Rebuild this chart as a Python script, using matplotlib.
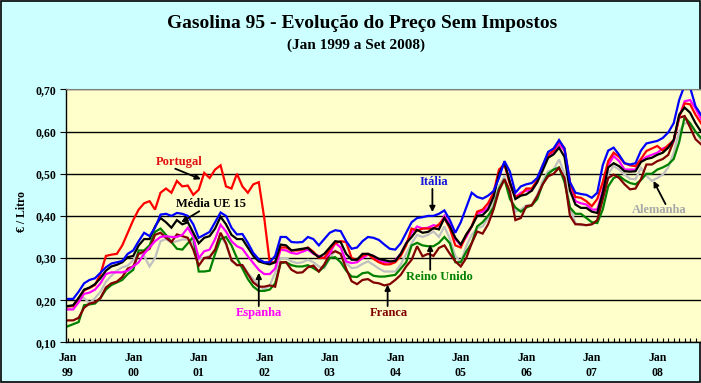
import matplotlib
matplotlib.use("Agg")
import matplotlib.pyplot as plt
import numpy as np
from matplotlib.patches import Rectangle

# monthly prices, Jan 1999 .. Sep 2008 (EUR / litre, without taxes)
portugal = [
    0.185, 0.186, 0.205, 0.223, 0.229, 0.236, 0.262, 0.305, 0.308, 0.310, 0.330, 0.360,
    0.390, 0.415, 0.430, 0.435, 0.415, 0.455, 0.465, 0.455, 0.483, 0.470, 0.472, 0.450,
    0.462, 0.502, 0.490, 0.510, 0.520, 0.470, 0.465, 0.500, 0.470, 0.455, 0.475, 0.480,
    0.395, 0.290, 0.290, 0.325, 0.325, 0.318, 0.318, 0.320, 0.325, 0.315, 0.300, 0.300,
    0.320, 0.335, 0.340, 0.338, 0.300, 0.295, 0.305, 0.310, 0.298, 0.290, 0.285, 0.285,
    0.290, 0.305, 0.330, 0.370, 0.365, 0.370, 0.370, 0.370, 0.380, 0.395, 0.370, 0.330,
    0.325, 0.355, 0.375, 0.410, 0.415, 0.430, 0.455, 0.510, 0.522, 0.475, 0.445, 0.450,
    0.465, 0.465, 0.485, 0.520, 0.545, 0.555, 0.578, 0.560, 0.480, 0.445, 0.443, 0.435,
    0.423, 0.440, 0.480, 0.530, 0.550, 0.540, 0.525, 0.520, 0.518, 0.535, 0.554, 0.560,
    0.566, 0.555, 0.568, 0.580, 0.635, 0.667, 0.665, 0.640, 0.620,
]
media_ue15 = [
    0.186, 0.188, 0.205, 0.225, 0.230, 0.238, 0.252, 0.270, 0.280, 0.284, 0.290, 0.302,
    0.305, 0.330, 0.345, 0.345, 0.375, 0.395, 0.385, 0.372, 0.390, 0.380, 0.385, 0.360,
    0.335, 0.348, 0.352, 0.370, 0.398, 0.380, 0.355, 0.345, 0.345, 0.325, 0.305, 0.292,
    0.288, 0.285, 0.290, 0.332, 0.330, 0.318, 0.320, 0.322, 0.324, 0.312, 0.302, 0.310,
    0.325, 0.340, 0.338, 0.310, 0.296, 0.296, 0.310, 0.310, 0.305, 0.298, 0.295, 0.292,
    0.293, 0.310, 0.335, 0.350, 0.367, 0.360, 0.362, 0.371, 0.368, 0.395, 0.375, 0.348,
    0.332, 0.356, 0.375, 0.400, 0.402, 0.415, 0.445, 0.500, 0.526, 0.480, 0.440, 0.448,
    0.451, 0.460, 0.480, 0.508, 0.538, 0.546, 0.562, 0.540, 0.460, 0.427, 0.419, 0.419,
    0.410, 0.407, 0.455, 0.515, 0.525, 0.518, 0.506, 0.505, 0.506, 0.528, 0.535, 0.538,
    0.545, 0.550, 0.562, 0.580, 0.640, 0.657, 0.645, 0.620, 0.600,
]
italia = [
    0.203, 0.203, 0.220, 0.240, 0.248, 0.252, 0.265, 0.278, 0.287, 0.290, 0.293, 0.310,
    0.318, 0.340, 0.360, 0.352, 0.372, 0.403, 0.405, 0.400, 0.407, 0.405, 0.400, 0.380,
    0.348, 0.355, 0.362, 0.385, 0.408, 0.400, 0.372, 0.356, 0.357, 0.336, 0.312, 0.297,
    0.290, 0.290, 0.305, 0.350, 0.350, 0.338, 0.337, 0.338, 0.350, 0.345, 0.330, 0.345,
    0.360, 0.366, 0.364, 0.340, 0.322, 0.325, 0.340, 0.350, 0.348, 0.343, 0.332, 0.322,
    0.320, 0.335, 0.360, 0.385, 0.395, 0.397, 0.400, 0.400, 0.405, 0.413, 0.390, 0.360,
    0.385, 0.420, 0.455, 0.445, 0.441, 0.448, 0.459, 0.490, 0.530, 0.505, 0.455, 0.470,
    0.475, 0.478, 0.490, 0.520, 0.552, 0.560, 0.580, 0.560, 0.480, 0.455, 0.452, 0.450,
    0.443, 0.455, 0.520, 0.555, 0.562, 0.545, 0.525, 0.522, 0.525, 0.555, 0.572, 0.575,
    0.578, 0.585, 0.598, 0.620, 0.675, 0.710, 0.705, 0.660, 0.640,
]
alemanha = [
    0.179, 0.179, 0.205, 0.205, 0.193, 0.205, 0.220, 0.244, 0.258, 0.270, 0.278, 0.282,
    0.295, 0.312, 0.305, 0.280, 0.300, 0.340, 0.345, 0.336, 0.340, 0.344, 0.344, 0.335,
    0.296, 0.300, 0.305, 0.320, 0.352, 0.332, 0.292, 0.284, 0.284, 0.265, 0.250, 0.235,
    0.225, 0.235, 0.265, 0.300, 0.300, 0.292, 0.288, 0.290, 0.296, 0.290, 0.280, 0.276,
    0.300, 0.318, 0.310, 0.288, 0.276, 0.278, 0.286, 0.292, 0.284, 0.275, 0.268, 0.268,
    0.268, 0.285, 0.310, 0.335, 0.355, 0.350, 0.355, 0.363, 0.350, 0.375, 0.345, 0.305,
    0.290, 0.328, 0.355, 0.371, 0.375, 0.395, 0.430, 0.470, 0.494, 0.450, 0.410, 0.415,
    0.425, 0.427, 0.450, 0.483, 0.506, 0.510, 0.534, 0.500, 0.420, 0.383, 0.378, 0.378,
    0.380, 0.385, 0.440, 0.500, 0.518, 0.510, 0.498, 0.488, 0.487, 0.514, 0.495, 0.483,
    0.490, 0.498, 0.515, 0.550, 0.600, 0.620, 0.620, 0.600, 0.580,
]
reino_unido = [
    0.138, 0.143, 0.148, 0.188, 0.190, 0.192, 0.205, 0.225, 0.236, 0.242, 0.248, 0.262,
    0.272, 0.318, 0.318, 0.330, 0.362, 0.370, 0.355, 0.338, 0.322, 0.320, 0.335, 0.350,
    0.268, 0.268, 0.270, 0.310, 0.345, 0.350, 0.330, 0.300, 0.275, 0.250, 0.232, 0.222,
    0.222, 0.225, 0.240, 0.288, 0.290, 0.283, 0.280, 0.280, 0.283, 0.276, 0.268, 0.280,
    0.300, 0.302, 0.290, 0.270, 0.256, 0.255, 0.264, 0.266, 0.258, 0.256, 0.256, 0.258,
    0.260, 0.275, 0.290, 0.330, 0.336, 0.330, 0.328, 0.328, 0.336, 0.350, 0.335, 0.290,
    0.290, 0.315, 0.335, 0.375, 0.385, 0.400, 0.420, 0.465, 0.487, 0.440, 0.420, 0.410,
    0.420, 0.425, 0.440, 0.475, 0.500, 0.510, 0.515, 0.480, 0.420, 0.405, 0.405, 0.395,
    0.385, 0.383, 0.415, 0.470, 0.490, 0.495, 0.485, 0.478, 0.475, 0.485, 0.500, 0.500,
    0.510, 0.515, 0.522, 0.535, 0.575, 0.635, 0.620, 0.600, 0.585,
]
espanha = [
    0.178, 0.178, 0.195, 0.215, 0.218, 0.225, 0.240, 0.262, 0.266, 0.266, 0.266, 0.270,
    0.280, 0.290, 0.310, 0.325, 0.340, 0.350, 0.352, 0.350, 0.350, 0.355, 0.372, 0.350,
    0.300, 0.316, 0.320, 0.345, 0.379, 0.363, 0.340, 0.328, 0.322, 0.304, 0.288, 0.272,
    0.262, 0.262, 0.275, 0.320, 0.318, 0.312, 0.310, 0.315, 0.320, 0.310, 0.305, 0.300,
    0.310, 0.336, 0.325, 0.292, 0.288, 0.290, 0.300, 0.308, 0.305, 0.295, 0.290, 0.290,
    0.295, 0.310, 0.335, 0.360, 0.375, 0.370, 0.372, 0.378, 0.375, 0.400, 0.380, 0.345,
    0.330, 0.350, 0.375, 0.405, 0.410, 0.420, 0.450, 0.505, 0.525, 0.480, 0.445, 0.455,
    0.460, 0.460, 0.480, 0.515, 0.540, 0.550, 0.570, 0.555, 0.470, 0.435, 0.430, 0.427,
    0.415, 0.415, 0.460, 0.520, 0.542, 0.530, 0.510, 0.510, 0.510, 0.530, 0.540, 0.545,
    0.550, 0.560, 0.565, 0.578, 0.635, 0.672, 0.675, 0.655, 0.630,
]
franca = [
    0.152, 0.152, 0.158, 0.182, 0.192, 0.195, 0.205, 0.230, 0.240, 0.244, 0.255, 0.275,
    0.280, 0.310, 0.315, 0.322, 0.355, 0.360, 0.348, 0.338, 0.356, 0.352, 0.348, 0.320,
    0.282, 0.300, 0.302, 0.320, 0.360, 0.335, 0.295, 0.283, 0.283, 0.262, 0.242, 0.232,
    0.232, 0.235, 0.232, 0.290, 0.290, 0.272, 0.265, 0.266, 0.278, 0.282, 0.268, 0.285,
    0.310, 0.316, 0.310, 0.275, 0.245, 0.238, 0.248, 0.250, 0.242, 0.240, 0.235, 0.238,
    0.248, 0.260, 0.280, 0.296, 0.328, 0.304, 0.310, 0.305, 0.324, 0.330, 0.310, 0.292,
    0.280, 0.300, 0.335, 0.363, 0.358, 0.380, 0.415, 0.460, 0.487, 0.458, 0.390, 0.395,
    0.423, 0.425, 0.447, 0.475, 0.494, 0.500, 0.514, 0.490, 0.400, 0.380, 0.380, 0.378,
    0.380, 0.390, 0.440, 0.490, 0.498, 0.490, 0.475, 0.463, 0.465, 0.487, 0.522, 0.522,
    0.530, 0.535, 0.545, 0.578, 0.633, 0.637, 0.610, 0.582, 0.570,
]

years = ["99", "00", "01", "02", "03", "04", "05", "06", "07", "08"]
yticks = [0.10, 0.20, 0.30, 0.40, 0.50, 0.60, 0.70]

plt.rcParams["font.family"] = ["Liberation Serif", "DejaVu Serif"]
plt.rcParams["font.weight"] = "bold"

fig = plt.figure(figsize=(7.01, 3.83), dpi=100, facecolor="#CCFFFF")
# plot area in pixels: x 66..701, y 89.5..342.3
ax = fig.add_axes([66 / 701, 40.7 / 383, 635 / 701, 252.8 / 383])
ax.set_facecolor("#FFFFCC")

x = np.arange(len(media_ue15))

# drawing order: lower ones first
series = [
    (alemanha, "#C0C0C0"),
    (reino_unido, "#008000"),
    (franca, "#800000"),
    (espanha, "#FF00FF"),
    (portugal, "#FF0000"),
    (media_ue15, "#000000"),
    (italia, "#0000FF"),
]
for vals, col in series:
    ax.plot(x, vals, color=col, linewidth=1.6, solid_joinstyle="miter")

ax.set_xlim(-0.31, 115.15)
ax.set_ylim(0.10, 0.70)
ax.set_yticks(yticks)
ax.set_yticklabels([f"{v:.2f}".replace(".", ",") for v in yticks], fontsize=8.5)
ax.yaxis.grid(True, color="black", linewidth=1.0)
ax.set_axisbelow(True)

ax.set_xticks(np.arange(0, len(x), 12))
ax.set_xticklabels([f"Jan\n{y}" for y in years], fontsize=8.5)
for lbl in ax.get_xticklabels():
    lbl.set_linespacing(1.3)
ax.set_xticks(x, minor=True)
ax.tick_params(axis="x", which="both", direction="in", length=3, width=0.8, pad=7)
ax.tick_params(axis="y", direction="out", length=4, width=0.8, pad=3)

ax.spines["right"].set_visible(False)
ax.spines["top"].set_color("#808080")
ax.spines["left"].set_linewidth(1.0)
ax.spines["bottom"].set_linewidth(1.0)

# country labels with arrows: (text, colour, text pos, arrow tail, arrow head)
labels = [
    ("Portugal", "#E01010", (20.4, 0.528), (19.7, 0.512), (24.4, 0.487)),
    ("Média UE 15", "#000000", (26.3, 0.428), (24.1, 0.411), (20.8, 0.385)),
    ("Itália", "#1515DD", (67.0, 0.480), (66.8, 0.464), (66.8, 0.409)),
    ("Reino Unido", "#008000", (68.0, 0.256), (66.4, 0.272), (66.4, 0.332)),
    ("Franca", "#800000", (58.9, 0.170), (58.6, 0.186), (58.6, 0.237)),
    ("Espanha", "#FF00FF", (35.0, 0.170), (35.0, 0.186), (35.0, 0.265)),
    ("Alemanha", "#A8A8A8", (108.3, 0.414), (109.5, 0.428), (107.3, 0.483)),
]
for txt, col, pos, tail, head in labels:
    ax.text(pos[0], pos[1], txt, color=col, fontsize=9, ha="center", va="center")
    ax.annotate("", xy=head, xytext=tail,
                arrowprops=dict(arrowstyle="-|>", color="black", lw=1.3,
                                mutation_scale=8, shrinkA=0, shrinkB=0))

fig.text(362 / 701, 1 - 23 / 383, "Gasolina 95 - Evolução do Preço Sem Impostos",
         fontsize=14, ha="center", va="center")
fig.text(356 / 701, 1 - 45 / 383, "(Jan 1999 a Set 2008)",
         fontsize=11, ha="center", va="center")
fig.text(22 / 701, 1 - 211 / 383, "€ / Litro", fontsize=8.5, rotation=90,
         ha="center", va="center")

# outer frame of the chart
fig.patches.append(Rectangle((0.5 / 701, 1.5 / 383), 699 / 701, 380.5 / 383,
                             transform=fig.transFigure, fill=False,
                             edgecolor="black", linewidth=1.2, zorder=-1))

fig.savefig("out.png", dpi=100, facecolor=fig.get_facecolor())
